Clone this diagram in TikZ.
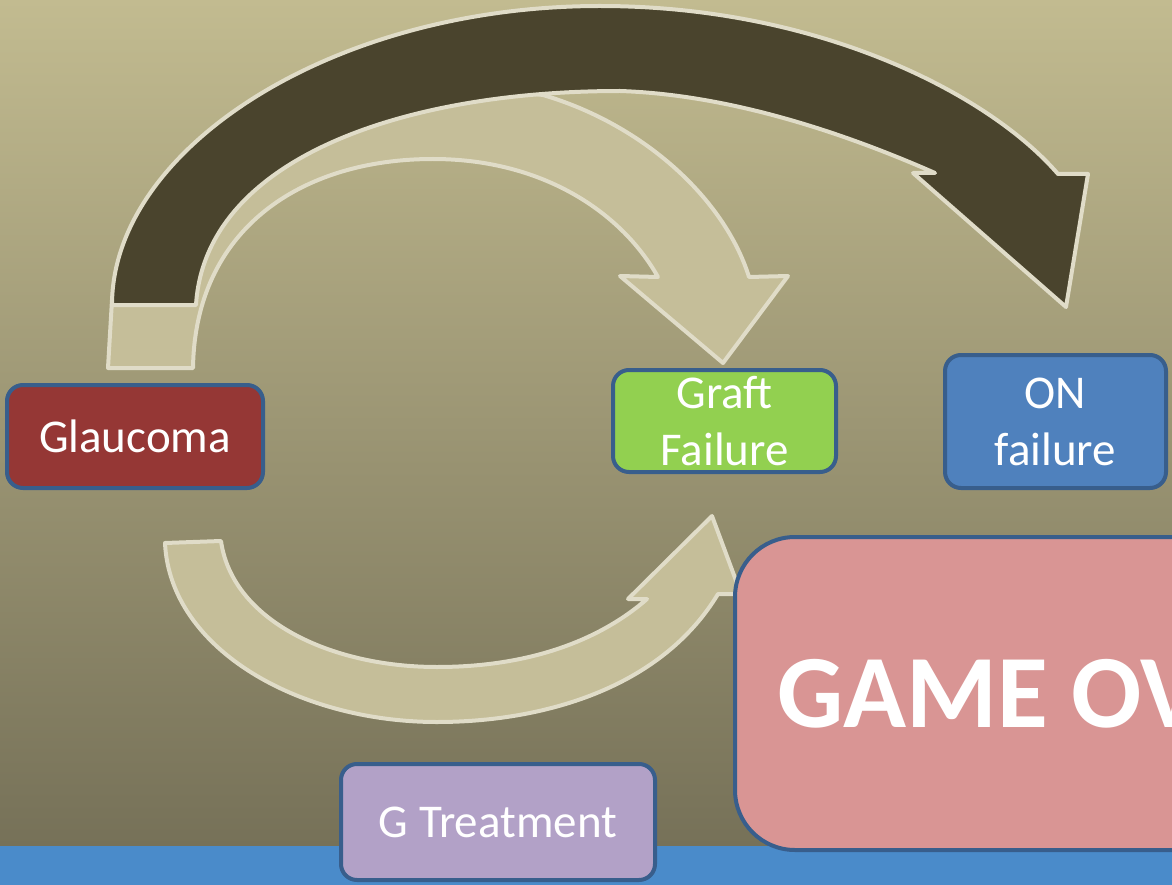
\documentclass[tikz,border=0pt]{standalone}
\usepackage{fontspec}
\setmainfont{Carlito}
\definecolor{bgtop}{RGB}{194,187,144}
\definecolor{bgbot}{RGB}{118,113,88}
\definecolor{sea}{RGB}{74,139,202}
\definecolor{rim}{RGB}{224,220,200}
\definecolor{pale}{RGB}{197,190,153}
\definecolor{umber}{RGB}{74,68,45}
\definecolor{edge}{RGB}{56,94,140}
\definecolor{glau}{RGB}{149,55,53}
\definecolor{graft}{RGB}{146,208,80}
\definecolor{onbox}{RGB}{79,129,189}
\definecolor{over}{RGB}{217,149,148}
\definecolor{treat}{RGB}{178,161,199}
\tikzset{
  blockarrow/.style={draw=rim, line width=4pt, line join=round},
  box/.style={draw=edge, line width=4pt, rounded corners=16pt, text=white,
    align=center, inner sep=0pt, font=\fontsize{47}{57}\selectfont},
}
\begin{document}
\begin{tikzpicture}[x=1pt,y=-1pt]
\useasboundingbox (0,0) rectangle (1172,885);
\clip (0,0) rectangle (1172,885);

% backdrop and water strip
\shade[top color=bgtop, bottom color=bgbot] (0,0) rectangle (1172,846);
\fill[sea] (0,846) rectangle (1172,885);

% pale arrow: Glaucoma -> Graft Failure
\path[blockarrow, fill=pale]
  (108,368) -- (193,368)
  .. controls (195,230) and (300,159) .. (433,159)
  .. controls (540,159) and (620,210) .. (658,277)
  -- (620,276) -- (723,363) -- (788,276) -- (749,277)
  .. controls (725,200) and (645,125) .. (543,95)
  .. controls (350,70) and (125,180) .. (112,300) -- cycle;

% dark arrow: Glaucoma -> ON failure
\path[blockarrow, fill=umber]
  (112,305) -- (196,305)
  .. controls (205,160) and (400,91) .. (620,91)
  .. controls (740,95) and (860,140) .. (935,173)
  -- (913,173) -- (1066,307) -- (1088,174) -- (1058,174)
  .. controls (990,95) and (820,6) .. (600,6)
  .. controls (330,6) and (112,150) .. (112,305)
  -- cycle;

% lower pale arrow: Glaucoma -> G Treatment -> onwards
\path[blockarrow, fill=pale]
  (165,543) -- (221,541)
  .. controls (232,620) and (330,667) .. (437,667)
  .. controls (530,667) and (600,640) .. (647,599)
  -- (628,599) -- (712,516) -- (741,594) -- (718,594)
  .. controls (660,690) and (540,722) .. (437,722)
  .. controls (300,722) and (170,650) .. (165,543)
  -- cycle;

% boxes
\node[box, fill=glau, minimum width=256pt, minimum height=103pt] (glaucoma) at (135,436.5) {Glaucoma};
\node[box, fill=graft, minimum width=223pt, minimum height=102pt] (graftfail) at (724.5,421) {Graft\\Failure};
\node[box, fill=onbox, minimum width=221pt, minimum height=133pt] (onfail) at (1055.5,421.5) {ON\\failure};
\node[box, fill=over, rounded corners=60pt, minimum width=618pt, minimum height=313pt,
  font=\bfseries\fontsize{104}{120}\selectfont] (gameover) at (1044,693.5) {GAME OVER};
\node[box, fill=treat, minimum width=314pt, minimum height=116pt] (gtreat) at (498,822) {G Treatment};
\end{tikzpicture}
\end{document}
